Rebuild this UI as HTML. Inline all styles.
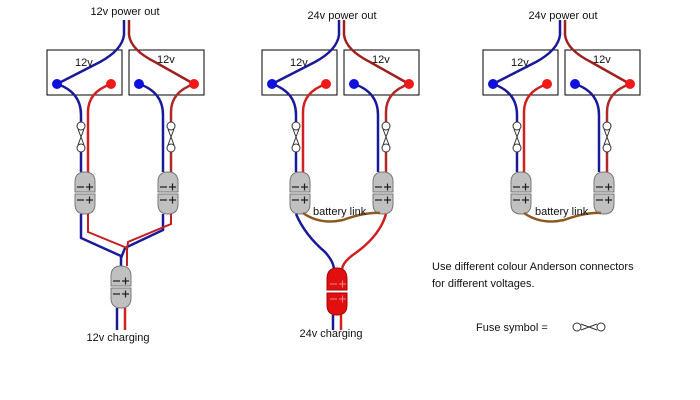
<!DOCTYPE html>
<html><head><meta charset="utf-8"><style>
html,body{margin:0;padding:0;background:#fff;}
svg{display:block;}
text{font-family:"Liberation Sans",sans-serif;font-size:11px;fill:#111;}
</style></head><body>
<svg width="700" height="400" viewBox="0 0 700 400" xmlns="http://www.w3.org/2000/svg">
<defs>
<g id="fuse">
  <rect x="-5" y="-4" width="10" height="30" fill="#fff"/>
  <path d="M-3,3 L3,19 M3,3 L-3,19" stroke="#333" stroke-width="1" fill="none"/>
  <circle cx="0" cy="0" r="4" fill="#fff" stroke="#333"/>
  <circle cx="0" cy="22" r="4" fill="#fff" stroke="#333"/>
</g>
<g id="conn">
  <path d="M0,10 Q0,0 10,0 Q20,0 20,10 L20,20 L0,20 Z" fill="#c0c0c0" stroke="#777"/>
  <path d="M0,22 L20,22 L20,32 Q20,42 10,42 Q0,42 0,32 Z" fill="#c0c0c0" stroke="#777"/>
  <path d="M2,15 H9 M11,15 H18 M14.5,11.5 V18.5 M2,28 H9 M11,28 H18 M14.5,24.5 V31.5" stroke="#222" stroke-width="1.2"/>
</g>
<g id="top">
  <rect x="47" y="50" width="75" height="45" fill="#fff" stroke="#000"/>
  <rect x="129" y="50" width="75" height="45" fill="#fff" stroke="#000"/>
  <path d="M124,20 L124,35 Q122,50 100,62 L57,84" stroke="#1a1a99" stroke-width="2.5" fill="none"/>
  <path d="M129,20 L129,35 Q131,50 155,62 L194,84" stroke="#a02020" stroke-width="2.5" fill="none"/>
  <path d="M57,84 Q81,92 81,115 L81,172" stroke="#1a1a99" stroke-width="2.5" fill="none"/>
  <path d="M111,84 Q88,92 88,112 L88,172" stroke="#d02020" stroke-width="2.5" fill="none"/>
  <path d="M139,84 Q163,92 163,115 L163,172" stroke="#1a1a99" stroke-width="2.5" fill="none"/>
  <path d="M194,84 Q171,92 171,112 L171,172" stroke="#b02828" stroke-width="2.5" fill="none"/>
  <circle cx="57" cy="84" r="5" fill="#1010dd"/>
  <circle cx="111" cy="84" r="5" fill="#ee1a1a"/>
  <circle cx="139" cy="84" r="5" fill="#1010dd"/>
  <circle cx="194" cy="84" r="5" fill="#ee1a1a"/>
  <use href="#fuse" x="81" y="126"/>
  <use href="#fuse" x="171" y="126"/>
  <use href="#conn" x="75" y="172"/>
  <use href="#conn" x="158" y="172"/>
</g>
</defs>

<!-- left -->
<use href="#top"/>
<path d="M81,214 L81,238 L121,256 L121,266" stroke="#1a1a99" stroke-width="2.5" fill="none"/>
<path d="M163,214 L163,230 L125,248 L121,258" stroke="#1a1a99" stroke-width="2.5" fill="none"/>
<path d="M88,214 L88,232 L127,248 L127,266" stroke="#c02020" stroke-width="2" fill="none"/>
<path d="M171,214 L171,224 L128,242 L127,250" stroke="#c02020" stroke-width="2" fill="none"/>
<use href="#conn" x="111" y="266"/>
<path d="M117,308 V330" stroke="#1a1a99" stroke-width="2.5"/>
<path d="M125,308 V330" stroke="#d02020" stroke-width="2.5"/>

<!-- middle -->
<use href="#top" x="215"/>
<path d="M296,214 Q305,235 325,252 Q334,262 334,270" stroke="#1a1a99" stroke-width="2.5" fill="none"/>
<path d="M386,214 Q380,235 357,252 Q342,262 342,270" stroke="#d02020" stroke-width="2.5" fill="none"/>
<path d="M303,213 Q320,225 343,220 Q365,212 380,213" stroke="#8b5a22" stroke-width="2.5" fill="none"/>
<path d="M327,279 Q327,268 337,268 Q347,268 347,279 L347,290 L327,290 Z" fill="#e01010" stroke="#a00"/>
<path d="M327,293 L347,293 L347,305 Q347,315 337,315 Q327,315 327,305 Z" fill="#e01010" stroke="#a00"/>
<path d="M330,284 H337 M339,284 H346 M342.5,280.5 V287.5 M330,299 H337 M339,299 H346 M342.5,295.5 V302.5" stroke="#e88" stroke-width="1"/>
<path d="M333,315 V330" stroke="#1a1a99" stroke-width="2.5"/>
<path d="M341,315 V330" stroke="#d02020" stroke-width="2.5"/>

<!-- right -->
<use href="#top" x="436"/>
<path d="M524,213 Q541,225 564,220 Q586,212 601,213" stroke="#8b5a22" stroke-width="2.5" fill="none"/>

<text x="125" y="15" text-anchor="middle">12v power out</text>
<text x="342" y="19" text-anchor="middle">24v power out</text>
<text x="563" y="19" text-anchor="middle">24v power out</text>
<text x="75" y="66">12v</text><text x="157" y="63">12v</text>
<text x="290" y="66">12v</text><text x="372" y="63">12v</text>
<text x="511" y="66">12v</text><text x="593" y="63">12v</text>
<text x="313" y="215">battery link</text>
<text x="535" y="215">battery link</text>
<text x="118" y="341" text-anchor="middle">12v charging</text>
<text x="331" y="337" text-anchor="middle">24v charging</text>
<text x="432" y="270">Use different colour Anderson connectors</text>
<text x="432" y="287">for different voltages.</text>
<text x="476" y="331">Fuse symbol =</text>
<g transform="translate(573,327)">
  <circle cx="4" cy="0" r="4" fill="#fff" stroke="#333"/>
  <circle cx="28" cy="0" r="4" fill="#fff" stroke="#333"/>
  <path d="M8,-3 L24,3 M8,3 L24,-3" stroke="#333"/>
</g>
</svg>
</body></html>
